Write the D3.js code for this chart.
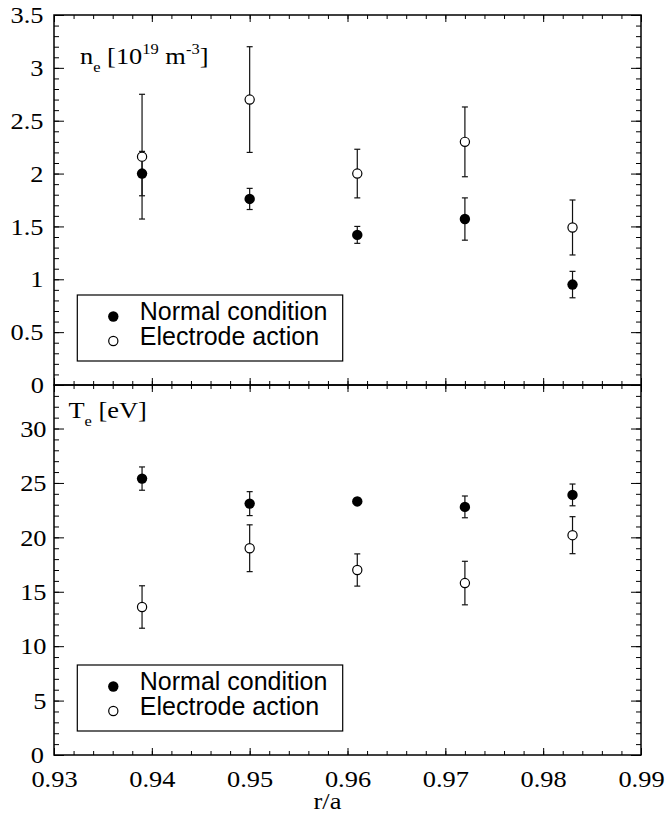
<!DOCTYPE html>
<html>
<head>
<meta charset="utf-8">
<script src="https://cdn.jsdelivr.net/npm/d3@7"></script>
<style>
  body { margin: 0; background: #fff; }
  .serif { font-family: "Liberation Serif", "Times New Roman", Times, serif; }
  .sans { font-family: "Liberation Sans", Arial, Helvetica, sans-serif; }
</style>
</head>
<body>
<script>
// data
const rOverA = [0.939, 0.950, 0.961, 0.972, 0.983];

const neNormal = [2.00, 1.76, 1.42, 1.57, 0.95];
const neNormalErr = [0.21, 0.10, 0.08, 0.20, 0.125];
const neElectrode = [2.16, 2.70, 2.00, 2.30, 1.49];
const neElectrodeErr = [0.59, 0.50, 0.23, 0.33, 0.26];

const teNormal = [25.4, 23.1, 23.3, 22.8, 23.9];
const teNormalErr = [1.07, 1.1, 0.3, 1.0, 1.0];
const teElectrode = [13.6, 19.0, 17.0, 15.8, 20.2];
const teElectrodeErr = [1.95, 2.15, 1.48, 2.0, 1.7];

const xTicks = [0.93, 0.94, 0.95, 0.96, 0.97, 0.98, 0.99];
const neTicks = [0, 0.5, 1, 1.5, 2, 2.5, 3, 3.5];
const teTicks = [0, 5, 10, 15, 20, 25, 30];
const legendLabels = ['Normal condition', 'Electrode action'];

const width = 665;
const height = 814;
const margin = { left: 54, right: 23 };
const panelH = 370;
const panelTops = [15, 385];
const sx = 1.1; // serif text is a bit wide in the original

const svg = d3.select('body').append('svg')
  .attr('width', width)
  .attr('height', height);

const xScale = d3.scaleLinear()
  .domain([0.93, 0.99])
  .range([margin.left, width - margin.right - 1]);

const xMinor = d3.range(0, 31).map(i => +(0.93 + i * 0.002).toFixed(3));

const panels = [
  { yMax: 3.5, ticks: neTicks, minorStep: 0.1, pad: 9.5,
    normal: neNormal, normalErr: neNormalErr, electrode: neElectrode, electrodeErr: neElectrodeErr },
  { yMax: 34, ticks: teTicks, minorStep: 1, pad: 6.8,
    normal: teNormal, normalErr: teNormalErr, electrode: teElectrode, electrodeErr: teElectrodeErr }
];

panels.forEach((p, idx) => {
  const top = panelTops[idx];
  const bottom = top + panelH;
  const yScale = d3.scaleLinear().domain([0, p.yMax]).range([bottom, top]);
  const yMinor = d3.range(0, Math.round(p.yMax / p.minorStep) + 1).map(i => +(i * p.minorStep).toFixed(2));
  const g = svg.append('g').attr('class', 'panel');

  // minor ticks
  g.append('g').attr('transform', `translate(${margin.left},0)`)
    .call(d3.axisLeft(yScale).tickValues(yMinor).tickSize(-5).tickFormat(''));
  g.append('g').attr('transform', `translate(${xScale.range()[1]},0)`)
    .call(d3.axisRight(yScale).tickValues(yMinor).tickSize(-5).tickFormat(''));
  g.append('g').attr('transform', `translate(0,${top})`)
    .call(d3.axisTop(xScale).tickValues(xMinor).tickSize(-4).tickFormat(''));
  g.append('g').attr('transform', `translate(0,${bottom})`)
    .call(d3.axisBottom(xScale).tickValues(xMinor).tickSize(-4).tickFormat(''));

  // major ticks
  const yAxis = g.append('g').attr('class', 'y-axis')
    .attr('transform', `translate(${margin.left},0)`)
    .call(d3.axisLeft(yScale).tickValues(p.ticks).tickSizeInner(-10).tickSizeOuter(0)
      .tickPadding(p.pad).tickFormat(d => String(d)));
  yAxis.selectAll('text')
    .attr('transform', `scale(${sx},1)`)
    .filter(d => d === 0).attr('x', -10 / sx);

  g.append('g').attr('transform', `translate(${xScale.range()[1]},0)`)
    .call(d3.axisRight(yScale).tickValues(p.ticks).tickSize(-10).tickFormat(''));
  g.append('g').attr('transform', `translate(0,${top})`)
    .call(d3.axisTop(xScale).tickValues(xTicks).tickSize(-7).tickFormat(''));

  const xAxis = g.append('g').attr('class', 'x-axis')
    .attr('transform', `translate(0,${bottom})`)
    .call(d3.axisBottom(xScale).tickValues(xTicks).tickSizeInner(-7).tickSizeOuter(0)
      .tickPadding(14.7).tickFormat(idx === 1 ? d3.format('.2f') : ''));
  xAxis.selectAll('text').attr('transform', `scale(${sx},1)`);

  g.selectAll('.domain').remove();
  g.selectAll('.tick line').attr('stroke', '#000').attr('stroke-width', 1);
  g.selectAll('.tick text')
    .attr('class', 'serif')
    .attr('font-family', null)
    .style('font-size', '24px')
    .attr('fill', '#000');
  g.selectAll('g').attr('font-family', null).attr('font-size', null);

  // frame
  g.append('rect')
    .attr('x', margin.left)
    .attr('y', top)
    .attr('width', xScale.range()[1] - margin.left)
    .attr('height', panelH)
    .attr('fill', 'none')
    .attr('stroke', '#000')
    .attr('stroke-width', 1.5);

  // error bars
  const series = [
    { filled: true, values: p.normal, errs: p.normalErr },
    { filled: false, values: p.electrode, errs: p.electrodeErr }
  ];
  const bars = series.flatMap(s => s.values.map((v, i) => ({ x: rOverA[i], v, e: s.errs[i] })));
  const eb = g.append('g').attr('stroke', '#111').attr('stroke-width', 1.2);
  eb.selectAll('.err-line')
    .data(bars)
    .join('line')
    .attr('class', 'err-line')
    .attr('x1', d => xScale(d.x))
    .attr('x2', d => xScale(d.x))
    .attr('y1', d => yScale(d.v - d.e))
    .attr('y2', d => yScale(d.v + d.e));
  eb.selectAll('.err-cap')
    .data(bars.flatMap(d => [{ x: d.x, y: d.v - d.e }, { x: d.x, y: d.v + d.e }]))
    .join('line')
    .attr('class', 'err-cap')
    .attr('x1', d => xScale(d.x) - 3)
    .attr('x2', d => xScale(d.x) + 3)
    .attr('y1', d => yScale(d.y))
    .attr('y2', d => yScale(d.y));

  // markers
  series.forEach(s => {
    g.append('g').selectAll('circle')
      .data(s.values)
      .join('circle')
      .attr('cx', (d, i) => xScale(rOverA[i]))
      .attr('cy', d => yScale(d))
      .attr('r', s.filled ? 5.2 : 4.6)
      .attr('fill', s.filled ? '#000' : '#fff')
      .attr('stroke', '#000')
      .attr('stroke-width', s.filled ? 0 : 1.2);
  });

  // legend
  const legend = g.append('g').attr('class', 'legend')
    .attr('transform', `translate(${margin.left + 23.3},${top + 280})`);
  legend.append('rect')
    .attr('width', 265.4)
    .attr('height', 66)
    .attr('fill', '#fff')
    .attr('stroke', '#000')
    .attr('stroke-width', 1.2);
  const items = legend.selectAll('.legend-item')
    .data(legendLabels)
    .join('g')
    .attr('class', 'legend-item')
    .attr('transform', (d, i) => `translate(0,${i * 24.5})`);
  items.append('circle')
    .attr('cx', 36)
    .attr('cy', 21.5)
    .attr('r', (d, i) => i === 0 ? 5.2 : 4.6)
    .attr('fill', (d, i) => i === 0 ? '#000' : '#fff')
    .attr('stroke', '#000')
    .attr('stroke-width', (d, i) => i === 0 ? 0 : 1.2);
  items.append('text')
    .attr('class', 'sans')
    .attr('x', 62.5)
    .attr('y', 25)
    .style('font-size', '25px')
    .text(d => d);
});

// panel labels
const neLabel = svg.append('g')
  .attr('transform', `translate(80,64) scale(${sx},1)`)
  .append('text')
  .attr('class', 'serif')
  .style('font-size', '24px');
neLabel.append('tspan').text('n');
neLabel.append('tspan').style('font-size', '15px').attr('dy', 8).text('e');
neLabel.append('tspan').attr('dy', -8).text(' [10');
neLabel.append('tspan').style('font-size', '15px').attr('dy', -10).text('19');
neLabel.append('tspan').attr('dy', 10).text(' m');
neLabel.append('tspan').style('font-size', '15px').attr('dy', -10).text('-3');
neLabel.append('tspan').attr('dy', 10).text(']');

const teLabel = svg.append('g')
  .attr('transform', `translate(68.5,418) scale(${sx},1)`)
  .append('text')
  .attr('class', 'serif')
  .style('font-size', '24px');
teLabel.append('tspan').text('T');
teLabel.append('tspan').style('font-size', '15px').attr('dy', 8).text('e');
teLabel.append('tspan').attr('dy', -8).text(' [eV]');

// x axis title
svg.append('g')
  .attr('transform', `translate(327.5,809) scale(${sx},1)`)
  .append('text')
  .attr('class', 'serif')
  .attr('text-anchor', 'middle')
  .style('font-size', '24px')
  .text('r/a');
</script>
</body>
</html>
